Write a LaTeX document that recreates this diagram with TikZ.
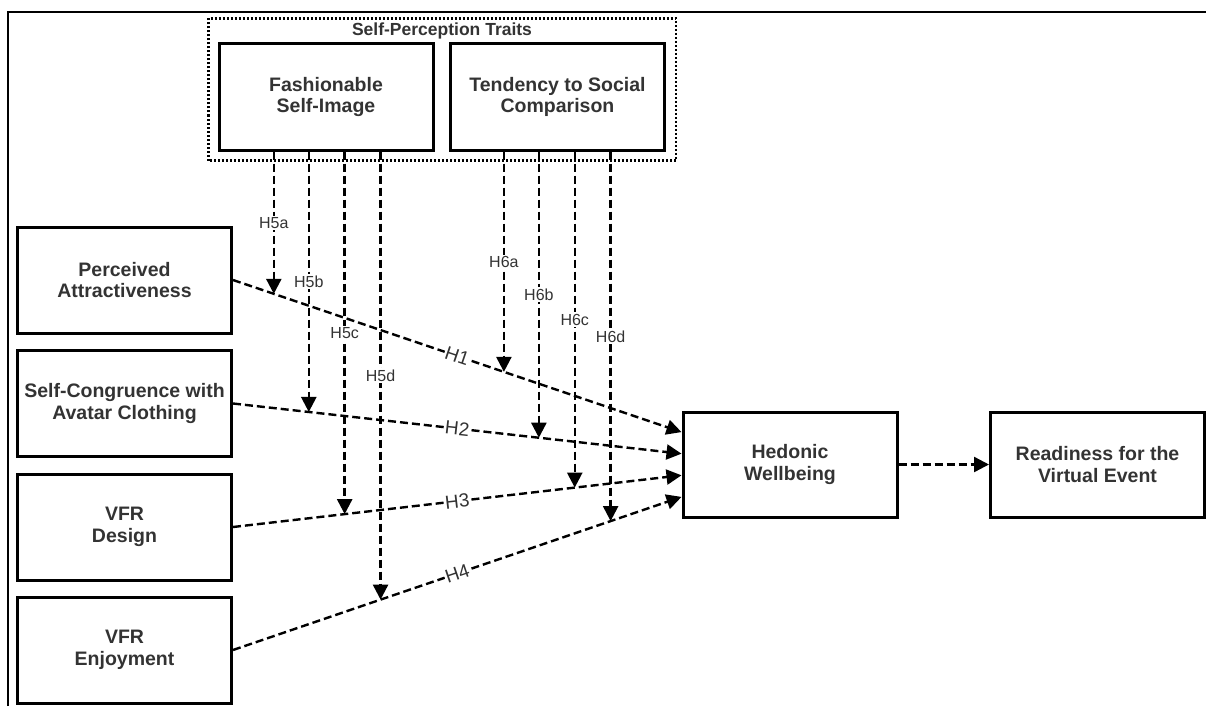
\documentclass[tikz,border=0pt]{standalone}
\usepackage{fontspec}
\setmainfont{Liberation Sans}
\usetikzlibrary{arrows.meta,calc,positioning}

\tikzset{
  construct/.style={draw,line width=3pt,minimum width=214pt,minimum height=106pt,
    align=center,inner sep=0pt,text=black!80,
    font=\bfseries\fontsize{19.5}{21.5}\selectfont},
  hyp/.style={line width=2.4pt,dash pattern=on 8pt off 4pt,
    -{Triangle[length=15pt,width=15pt]}},
  hlabel/.style={midway,sloped,fill=white,inner sep=1pt,text=black!80,
    font=\fontsize{19}{19}\selectfont},
  mlabel/.style={midway,fill=white,inner sep=1.5pt,text=black!80,
    font=\fontsize{16}{16}\selectfont},
  traits/.style={line width=2.2pt,dash pattern=on 2pt off 2pt}
}

\begin{document}
\begin{tikzpicture}[x=1pt,y=-1pt]
  \useasboundingbox (0,0) rectangle (1206,706);

  % Frame
  \draw[line width=2.2pt] (8,706) -- (8,12) -- (1206,12);

  % Constructs
  \node[construct] (fashion) at (326,97) {Fashionable\\Self-Image};
  \node[construct] (compare) at (557.5,97) {Tendency to Social\\Comparison};
  \node[construct] (attract) at (124.5,280) {Perceived\\Attractiveness};
  \node[construct] (congru) at (124.5,403.5) {Self-Congruence with\\Avatar Clothing};
  \node[construct] (design) at (124.5,527) {VFR\\Design};
  \node[construct] (enjoy) at (124.5,650) {VFR\\Enjoyment};
  \node[construct,minimum height=105pt] (hedonic) at (790,464.5) {Hedonic\\Wellbeing};
  \node[construct,minimum height=105pt] (ready) at (1097.5,464.5) {Readiness for the\\Virtual Event};

  % Self-perception group
  \draw[traits] ($(fashion.south west)+(-9,9)$) rectangle ($(compare.north east)+(10,-24)$);
  \node[text=black!80,inner sep=0pt,font=\bfseries\fontsize{17.5}{18}\selectfont]
    (spt) at (442,31) {Self-Perception Traits};

  % Ports on Hedonic Wellbeing
  \coordinate (in1) at ($(hedonic.north west)!0.2!(hedonic.south west)$);
  \coordinate (in2) at ($(hedonic.north west)!0.4!(hedonic.south west)$);
  \coordinate (in3) at ($(hedonic.north west)!0.6!(hedonic.south west)$);
  \coordinate (in4) at ($(hedonic.north west)!0.8!(hedonic.south west)$);

  % Direct paths
  \draw[hyp] (attract.east) -- node[hlabel] {H1}
    coordinate[pos=0.091] (t5a) coordinate[pos=0.604] (t6a) (in1);
  \draw[hyp] (congru.east) -- node[hlabel] {H2}
    coordinate[pos=0.169] (t5b) coordinate[pos=0.682] (t6b) (in2);
  \draw[hyp] (design.east) -- node[hlabel] {H3}
    coordinate[pos=0.249] (t5c) coordinate[pos=0.762] (t6c) (in3);
  \draw[hyp] (enjoy.east) -- node[hlabel] {H4}
    coordinate[pos=0.329] (t5d) coordinate[pos=0.842] (t6d) (in4);
  \draw[hyp] (hedonic) -- (ready);

  % Moderations
  \draw[hyp] (fashion.south -| t5a) -- node[mlabel] {H5a} (t5a);
  \draw[hyp] (fashion.south -| t5b) -- node[mlabel] {H5b} (t5b);
  \draw[hyp] (fashion.south -| t5c) -- node[mlabel] {H5c} (t5c);
  \draw[hyp] (fashion.south -| t5d) -- node[mlabel] {H5d} (t5d);
  \draw[hyp] (compare.south -| t6a) -- node[mlabel] {H6a} (t6a);
  \draw[hyp] (compare.south -| t6b) -- node[mlabel] {H6b} (t6b);
  \draw[hyp] (compare.south -| t6c) -- node[mlabel] {H6c} (t6c);
  \draw[hyp] (compare.south -| t6d) -- node[mlabel] {H6d} (t6d);

\end{tikzpicture}
\end{document}
